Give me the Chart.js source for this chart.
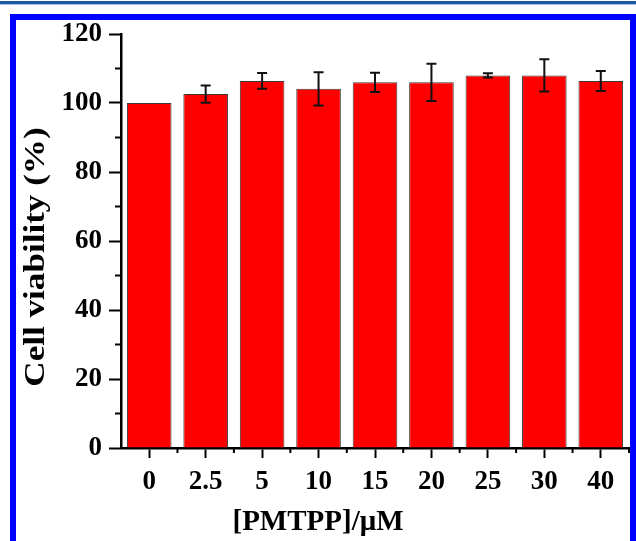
<!DOCTYPE html>
<html>
<head>
<meta charset="utf-8">
<script src="https://cdn.jsdelivr.net/npm/chart.js@4"></script>
<style>
  html, body { margin: 0; padding: 0; background: #fff; }
  body { width: 636px; height: 541px; position: relative; overflow: hidden; }
  .topline { position: absolute; left: 0; top: 1px; width: 636px; height: 3px; background: #1d5aa6; border-bottom: 1px solid #a9c0dd; }
  .frame { position: absolute; left: 10px; top: 14px; width: 626px; height: 600px; box-sizing: border-box; border: 6px solid #0000ff; }
  #chart { position: absolute; left: 0; top: 0; }
</style>
</head>
<body>
<div class="topline"></div>
<div class="frame"></div>
<canvas id="chart" width="636" height="541"></canvas>
<script>
// DADOS
const concentracoes = ['0', '2.5', '5', '10', '15', '20', '25', '30', '40'];
const viabilidade = [100, 102.6, 106.4, 104.1, 106.0, 106.0, 108.0, 108.0, 106.4];
const erro = [0, 2.5, 2.3, 4.8, 2.8, 5.4, 0.6, 4.7, 2.9];
const ticksY = [0, 20, 40, 60, 80, 100, 120];
const tituloX = '[PMTPP]/\u03bcM';
const tituloY = 'Cell viability (%)';

const fonte = 'Liberation Serif, Times New Roman, serif';

// BARRAS DE ERRO + TICKS MENORES + TITULOS DOS EIXOS
const extras = {
    id: 'extras',
    afterDatasetsDraw(chart) {
        const ctx = chart.ctx;
        const y = chart.scales.y;
        const x = chart.scales.x;
        const meta = chart.getDatasetMeta(0);
        ctx.save();
        ctx.strokeStyle = '#111';
        ctx.lineWidth = 2;
        meta.data.forEach((bar, i) => {
            if (!erro[i]) return;
            const top = y.getPixelForValue(viabilidade[i] + erro[i]);
            const bot = y.getPixelForValue(viabilidade[i] - erro[i]);
            ctx.beginPath();
            ctx.moveTo(bar.x, top); ctx.lineTo(bar.x, bot);
            ctx.moveTo(bar.x - 5, top); ctx.lineTo(bar.x + 5, top);
            ctx.moveTo(bar.x - 5, bot); ctx.lineTo(bar.x + 5, bot);
            ctx.stroke();
        });
        // ticks menores do eixo y
        ctx.strokeStyle = '#000';
        for (let v = 10; v < 120; v += 20) {
            const py = y.getPixelForValue(v);
            ctx.beginPath();
            ctx.moveTo(x.left, py); ctx.lineTo(x.left - 6, py);
            ctx.stroke();
        }
        // ticks menores do eixo x (entre categorias)
        const passo = x.getPixelForValue(1) - x.getPixelForValue(0);
        for (let i = 1; i <= concentracoes.length; i++) {
            const px = x.getPixelForValue(i) - passo / 2;
            ctx.beginPath();
            ctx.moveTo(px, y.bottom); ctx.lineTo(px, y.bottom + 5);
            ctx.stroke();
        }
        // titulos (fora do centro do eixo, como na figura)
        ctx.fillStyle = '#000';
        ctx.textAlign = 'center';
        ctx.textBaseline = 'middle';
        ctx.font = 'bold 29px ' + fonte;
        ctx.fillText(tituloX, 318, 523);
        ctx.translate(36, 257);
        ctx.rotate(-Math.PI / 2);
        ctx.scale(1.17, 1);
        ctx.font = 'bold 30px ' + fonte;
        ctx.fillText(tituloY, 0, 0);
        ctx.restore();
    }
};

new Chart(document.getElementById('chart'), {
    type: 'bar',
    data: {
        labels: concentracoes,
        datasets: [{
            data: viabilidade,
            backgroundColor: '#ff0000',
            borderColor: '#3a3a3a',
            borderWidth: 1,
            categoryPercentage: 1,
            barPercentage: 0.79
        }]
    },
    options: {
        responsive: false,
        animation: false,
        layout: { padding: { left: 0, right: 7, top: 34, bottom: 0 } },
        plugins: { legend: { display: false }, tooltip: { enabled: false } },
        scales: {
            x: {
                grid: { display: true, drawOnChartArea: false, offset: false, tickLength: 10, tickWidth: 2, tickColor: '#000' },
                border: { color: '#000', width: 2.5 },
                ticks: { color: '#000', padding: 8, font: { family: fonte, size: 27, weight: 'bold' }, maxRotation: 0 },
                afterFit(s) { s.height = 93; }
            },
            y: {
                min: 0,
                max: 120,
                afterBuildTicks(s) { s.ticks = ticksY.map(v => ({ value: v })); },
                grid: { display: true, drawOnChartArea: false, tickLength: 12, tickWidth: 2, tickColor: '#000' },
                border: { color: '#000', width: 2.5 },
                ticks: { color: '#000', padding: 7, font: { family: fonte, size: 27, weight: 'bold' } },
                afterFit(s) { s.width = 121; }
            }
        }
    },
    plugins: [extras]
});
</script>
</body>
</html>
